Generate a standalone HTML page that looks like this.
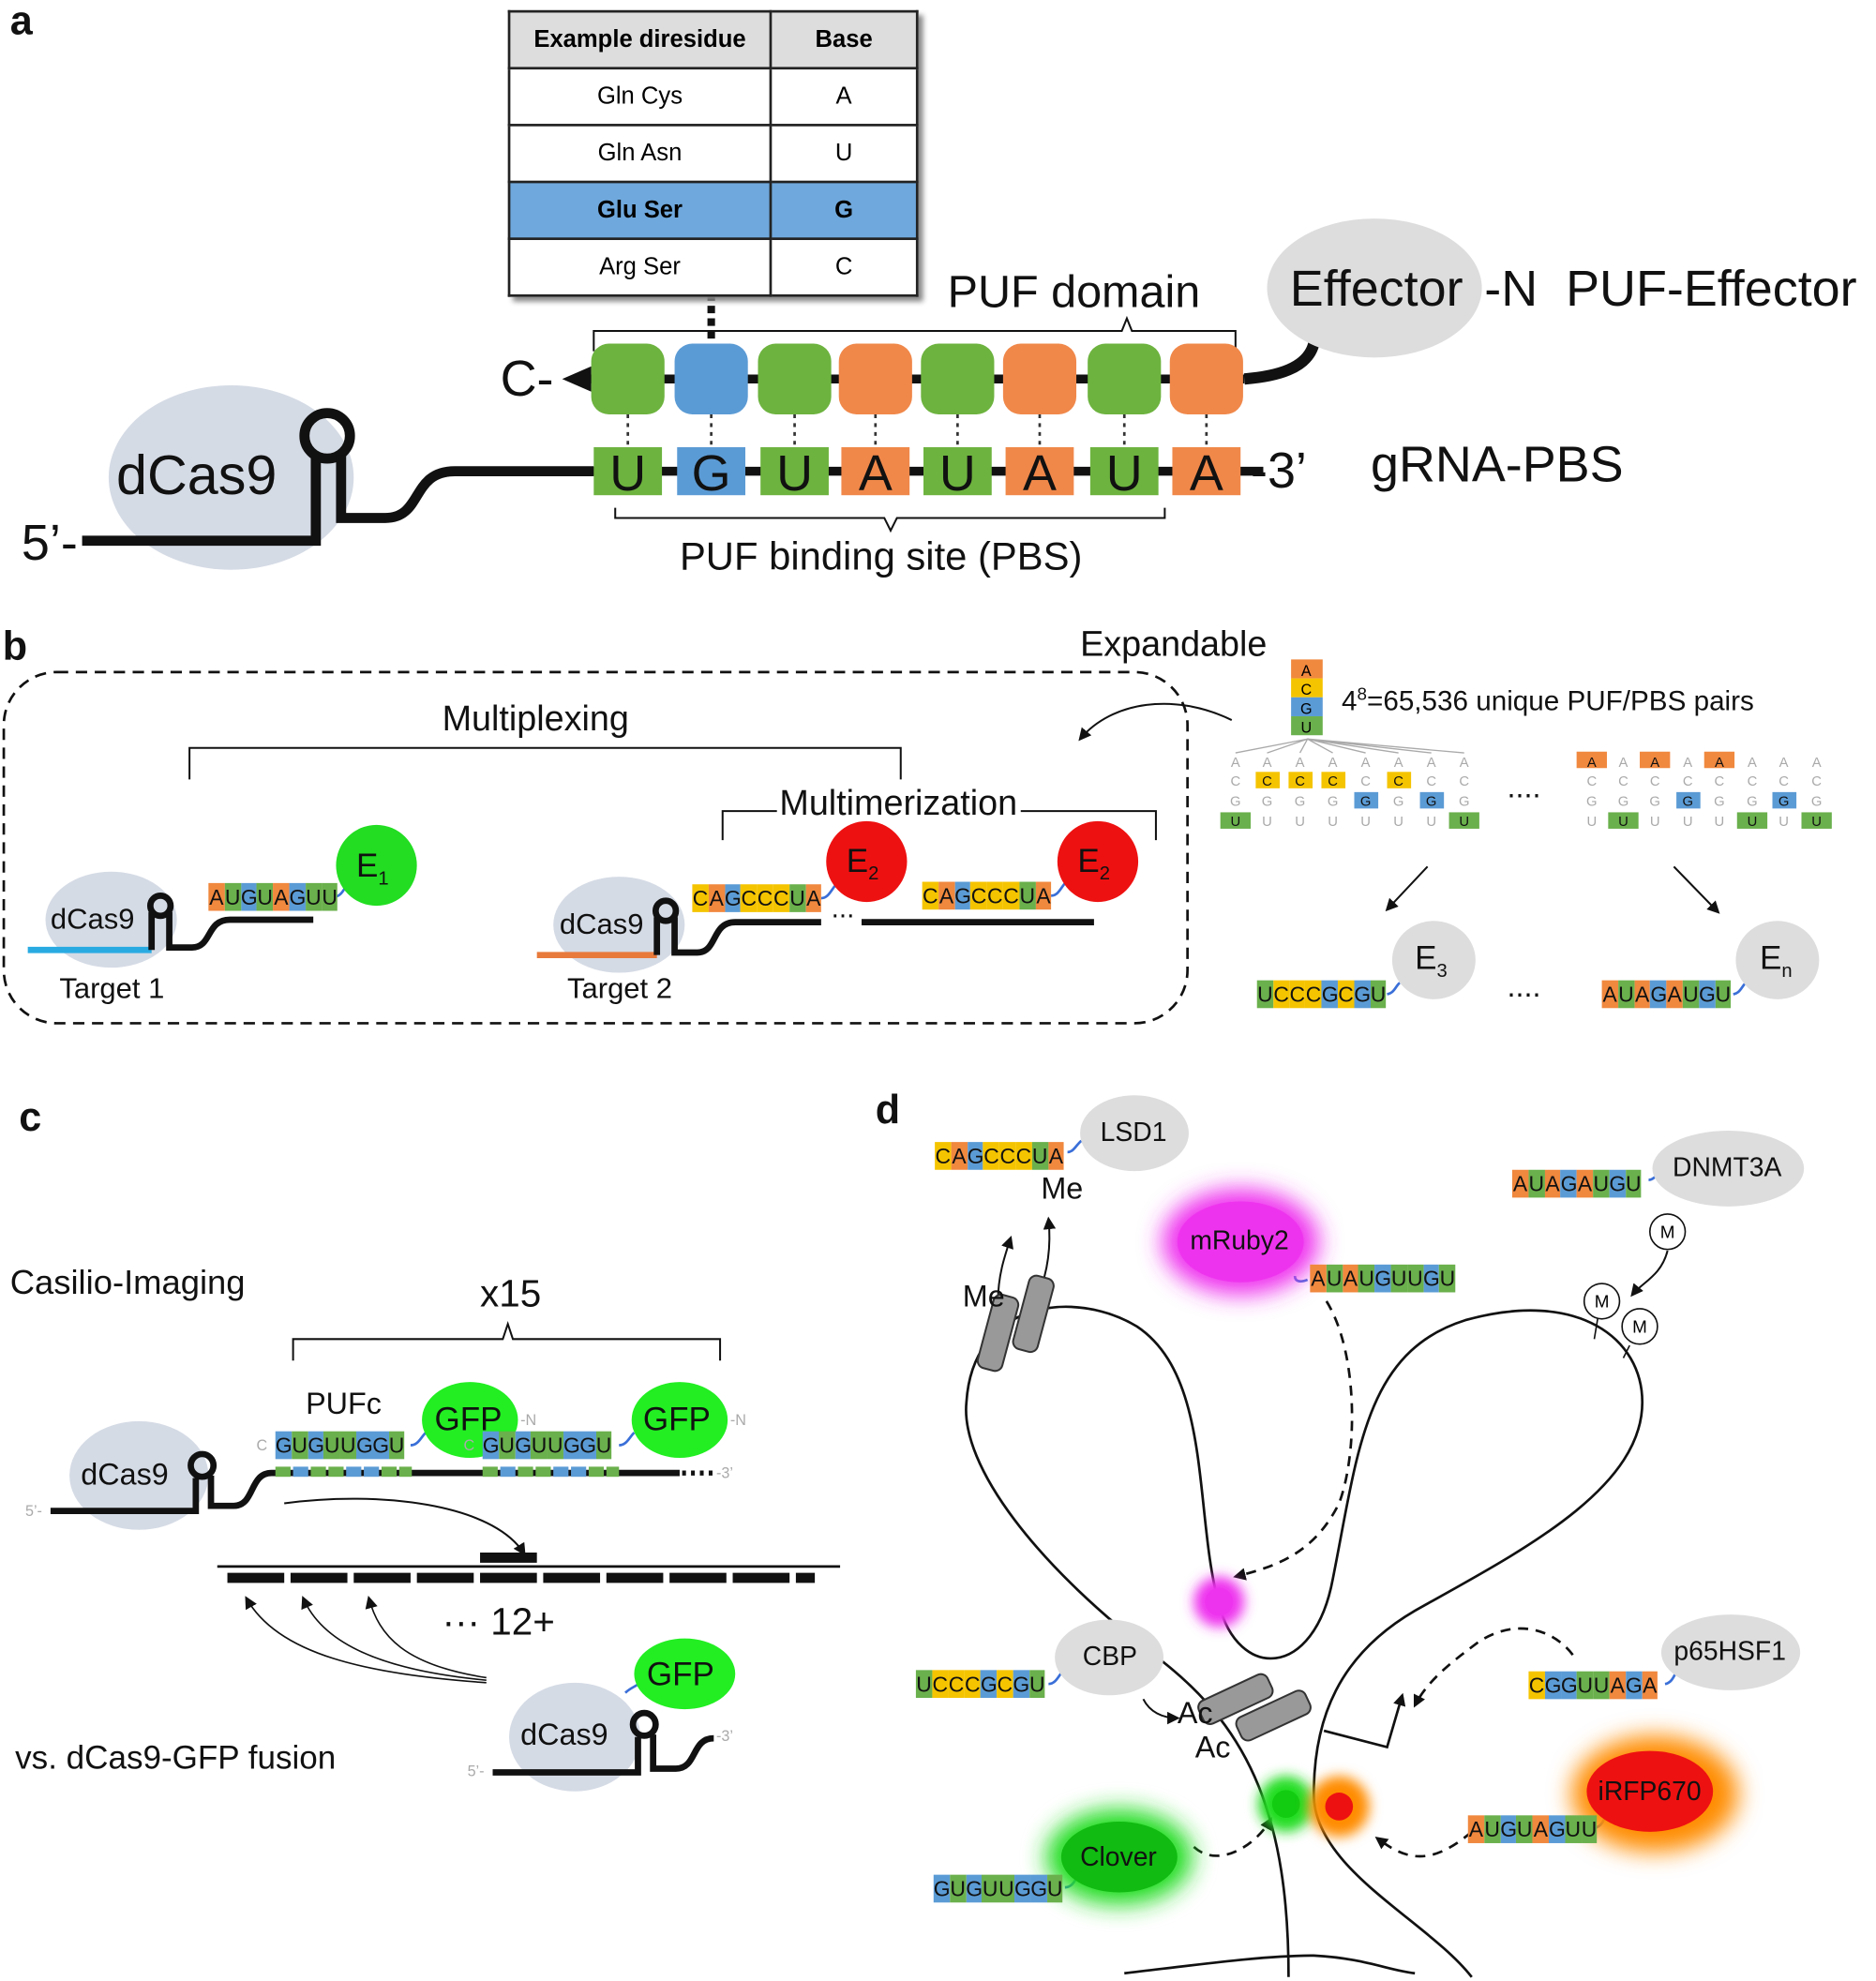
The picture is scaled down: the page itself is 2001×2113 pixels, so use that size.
<!DOCTYPE html>
<html><head><meta charset="utf-8">
<style>
html,body{margin:0;padding:0;background:#fff;}
#w{width:2001px;height:2113px;overflow:hidden;position:relative;}
#s{position:absolute;left:0;top:0;width:1485px;height:1568px;transform:scale(1.34747);transform-origin:0 0;font-family:"Liberation Sans",Arial,sans-serif;}
.t{position:absolute;white-space:nowrap;color:#111;line-height:1;}
.seq{position:absolute;display:flex;height:22px;}
.seq b{display:block;width:12.8px;height:22px;font-weight:normal;font-size:17px;line-height:23px;text-align:center;color:#111;}
.A{background:#f0883e}.C{background:#f5c400}.G{background:#5b9bd5}.U{background:#6ab04c}
table{position:absolute;left:402px;top:8px;border-collapse:collapse;box-shadow:4px 4px 4px #888;background:#fff;}
td{border:2px solid #222;height:41px;font-size:19px;text-align:center;}
</style></head><body><div id="w"><div id="s">
<svg width="1485" height="1568" style="position:absolute;left:0;top:0">
<defs>
<filter id="bl" x="-50%" y="-50%" width="200%" height="200%"><feGaussianBlur stdDeviation="9"/></filter>
<filter id="bl2" x="-100%" y="-100%" width="300%" height="300%"><feGaussianBlur stdDeviation="5"/></filter>
<marker id="ar" markerWidth="10" markerHeight="10" refX="8" refY="5" orient="auto" markerUnits="userSpaceOnUse"><path d="M0,0 L10,5 L0,10 z" fill="#111"/></marker>
</defs>
<ellipse cx="183" cy="378" rx="97" ry="73" fill="#d5dbe5"/>
<ellipse cx="88" cy="728" rx="52" ry="38" fill="#d5dbe5"/>
<ellipse cx="490" cy="732" rx="52" ry="38" fill="#d5dbe5"/>
<ellipse cx="110" cy="1168" rx="55" ry="43" fill="#d5dbe5"/>
<ellipse cx="455" cy="1375" rx="52" ry="43" fill="#d5dbe5"/>
<g fill="none" stroke="#111">
<line x1="563" y1="232" x2="563" y2="272" stroke-width="6" stroke-dasharray="6,4"/>
<path d="M470,278 V262 H888 l4,-10 l4,10 H978 V278" stroke-width="1.5"/>
<path d="M1040,272 C1035,292 1010,298 985,300" stroke-width="9"/>
<line x1="462" y1="300" x2="985" y2="300" stroke-width="7"/>
<path d="M487,402 V410 H700 l5,10 l5,-10 H922 V402" stroke-width="1.5"/>
<line x1="467" y1="373" x2="1000" y2="373" stroke-width="7"/>
<path d="M65,428 H250 V362" stroke-width="8"/>
<circle cx="259" cy="345" r="18" stroke-width="8"/>
<path d="M270,360 V410 H305 C335,410 325,373 360,373 H470" stroke-width="8"/>
<rect x="3" y="532" width="937" height="278" rx="42" stroke-width="2" stroke-dasharray="9,6"/>
<path d="M975,570 C930,548 880,555 855,585" stroke-width="1.5" marker-end="url(#ar)"/>
<path d="M150,617 V592 H713 V617" stroke-width="1.5"/>
<path d="M572,665 V642 H615 M808,642 H915 V665" stroke-width="1.5"/>
<line x1="22" y1="752" x2="120" y2="752" stroke="#29abe2" stroke-width="5"/>
<path d="M120,752 V722" stroke-width="5"/><circle cx="127" cy="717" r="8" stroke-width="5"/>
<path d="M134,722 V750 H152 C168,750 163,728 182,728 H248" stroke-width="5"/>
<line x1="425" y1="756" x2="520" y2="756" stroke="#e87a3c" stroke-width="5"/>
<path d="M520,756 V726" stroke-width="5"/><circle cx="527" cy="721" r="8" stroke-width="5"/>
<path d="M534,726 V754 H552 C568,754 563,730 582,730 H650" stroke-width="5"/>
<line x1="682" y1="730" x2="866" y2="730" stroke-width="5"/>
<g stroke="#aaa" stroke-width="1">
<path d="M1035,585 L978,596 M1035,585 L1003,596 M1035,585 L1029,596 M1035,585 L1055,596 M1035,585 L1081,596 M1035,585 L1107,596 M1035,585 L1133,596 M1035,585 L1159,596"/>
</g>
<line x1="1130" y1="686" x2="1098" y2="720" stroke-width="1.5" marker-end="url(#ar)"/>
<line x1="1325" y1="686" x2="1360" y2="722" stroke-width="1.5" marker-end="url(#ar)"/>
<path d="M1098,787 C1104,786 1105,780 1108,778" stroke="#3a6fd8" stroke-width="2"/>
<path d="M1372,787 C1378,786 1379,780 1382,778" stroke="#3a6fd8" stroke-width="2"/>
<path d="M232,1077 V1060 H398 l4,-12 l4,12 H570 V1077" stroke-width="1.5"/>
<path d="M40,1196 H155 V1170" stroke-width="5"/><circle cx="160" cy="1160" r="9" stroke-width="5"/>
<path d="M167,1168 V1192 H185 C202,1192 197,1166 215,1166 H538" stroke-width="5"/>
<line x1="540" y1="1166" x2="566" y2="1166" stroke-width="4" stroke-dasharray="3,4"/>
<path d="M225,1190 C300,1180 390,1190 415,1230" stroke-width="1.5" marker-end="url(#ar)"/>
<line x1="172" y1="1240" x2="665" y2="1240" stroke-width="2"/>
<line x1="180" y1="1249" x2="645" y2="1249" stroke-width="8" stroke-dasharray="45,5"/>
<line x1="380" y1="1233" x2="425" y2="1233" stroke-width="8"/>
<path d="M385,1332 C290,1325 220,1310 195,1265" stroke-width="1.2" marker-end="url(#ar)"/>
<path d="M385,1330 C300,1322 255,1300 240,1265" stroke-width="1.2" marker-end="url(#ar)"/>
<path d="M385,1328 C320,1318 300,1295 292,1265" stroke-width="1.2" marker-end="url(#ar)"/>
<path d="M390,1403 H505 V1375" stroke-width="5"/><circle cx="510" cy="1365" r="9" stroke-width="5"/>
<path d="M517,1373 V1400 H535 C552,1400 547,1376 565,1376" stroke-width="5"/>
<path d="M495,1340 C500,1335 505,1335 508,1330" stroke="#3a6fd8" stroke-width="2"/>
<path d="M1020,1565 C1020,1440 990,1370 920,1315 C820,1240 760,1160 765,1110 C770,1030 850,1020 900,1050 C960,1090 945,1200 965,1270 C980,1330 1040,1330 1055,1250 C1075,1150 1080,1070 1160,1045 C1250,1020 1300,1060 1300,1110 C1300,1180 1200,1230 1120,1275 C1060,1310 1040,1360 1040,1420 C1040,1480 1130,1520 1165,1565" stroke-width="2"/>
<path d="M890,1562 C950,1555 1000,1548 1040,1548 C1080,1550 1100,1560 1120,1562" stroke-width="2"/>
<path d="M1048,1370 L1098,1383 L1110,1342" stroke-width="2" marker-end="url(#ar)"/>
<path d="M1050,1030 C1075,1070 1075,1150 1060,1190 C1040,1230 1010,1240 978,1248" stroke-width="2" stroke-dasharray="8,6" marker-end="url(#ar)"/>
<path d="M1245,1310 C1230,1290 1200,1280 1170,1300 C1150,1315 1130,1330 1120,1350" stroke-width="2" stroke-dasharray="8,6" marker-end="url(#ar)"/>
<path d="M1165,1450 C1130,1480 1110,1470 1090,1455" stroke-width="2" stroke-dasharray="8,6" marker-end="url(#ar)"/>
<path d="M945,1462 C965,1480 995,1460 1006,1440" stroke-width="2" stroke-dasharray="8,6" marker-end="url(#ar)"/>
<path d="M905,1345 C910,1355 920,1360 932,1360" stroke-width="1.5" marker-end="url(#ar)"/>
<path d="M790,1030 C790,1010 795,995 800,980" stroke-width="1.5" marker-end="url(#ar)"/>
<path d="M822,1025 C830,1005 832,985 830,965" stroke-width="1.5" marker-end="url(#ar)"/>
<path d="M1320,990 C1315,1010 1300,1015 1292,1025" stroke-width="1.5" marker-end="url(#ar)"/>
<path d="M1265,1042 L1262,1060 M1290,1065 L1285,1075" stroke-width="1.2"/>
<path d="M845,912 C850,912 852,906 856,903" stroke="#3a6fd8" stroke-width="2"/>
<path d="M1305,934 C1310,934 1312,928 1316,925" stroke="#3a6fd8" stroke-width="2"/>
<path d="M1025,1010 C1025,1015 1030,1015 1035,1013" stroke="#3a6fd8" stroke-width="2"/>
<path d="M830,1333 C836,1333 838,1326 842,1322" stroke="#3a6fd8" stroke-width="2"/>
<path d="M1318,1333 C1324,1332 1325,1326 1328,1322" stroke="#3a6fd8" stroke-width="2"/>
<path d="M1262,1447 C1268,1446 1270,1440 1272,1435" stroke="#3a6fd8" stroke-width="2"/>
<path d="M843,1494 C849,1494 851,1488 854,1484" stroke="#3a6fd8" stroke-width="2"/>
<path d="M264,710 C270,710 272,704 275,700" stroke="#3a6fd8" stroke-width="2"/>
<path d="M650,711 C656,711 658,704 662,700" stroke="#3a6fd8" stroke-width="2"/>
<path d="M832,709 C838,709 840,702 844,698" stroke="#3a6fd8" stroke-width="2"/>
<path d="M325,1144 C331,1144 333,1138 337,1134" stroke="#3a6fd8" stroke-width="2"/>
<path d="M490,1144 C496,1144 498,1138 502,1134" stroke="#3a6fd8" stroke-width="2"/>
</g>
<path d="M445,300 L468,290 L468,310 z" fill="#111"/>
<g stroke="#333" stroke-width="2" stroke-dasharray="3,4"><line x1="497" y1="328" x2="497" y2="355"/><line x1="563" y1="328" x2="563" y2="355"/><line x1="629" y1="328" x2="629" y2="355"/><line x1="693" y1="328" x2="693" y2="355"/><line x1="758" y1="328" x2="758" y2="355"/><line x1="823" y1="328" x2="823" y2="355"/><line x1="890" y1="328" x2="890" y2="355"/><line x1="955" y1="328" x2="955" y2="355"/></g>
<g>
<rect x="468" y="272" width="58" height="56" rx="14" fill="#6db33f"/>
<rect x="534" y="272" width="58" height="56" rx="14" fill="#5b9bd5"/>
<rect x="600" y="272" width="58" height="56" rx="14" fill="#6db33f"/>
<rect x="664" y="272" width="58" height="56" rx="14" fill="#f0884a"/>
<rect x="729" y="272" width="58" height="56" rx="14" fill="#6db33f"/>
<rect x="794" y="272" width="58" height="56" rx="14" fill="#f0884a"/>
<rect x="861" y="272" width="58" height="56" rx="14" fill="#6db33f"/>
<rect x="926" y="272" width="58" height="56" rx="14" fill="#f0884a"/>
</g>
<g font-size="40" text-anchor="middle" fill="#111" font-family="Liberation Sans">
<rect x="470" y="354" width="54" height="38" fill="#6db33f"/><text x="497" y="388">U</text>
<rect x="536" y="354" width="54" height="38" fill="#5b9bd5"/><text x="563" y="388">G</text>
<rect x="602" y="354" width="54" height="38" fill="#6db33f"/><text x="629" y="388">U</text>
<rect x="666" y="354" width="54" height="38" fill="#f0884a"/><text x="693" y="388">A</text>
<rect x="731" y="354" width="54" height="38" fill="#6db33f"/><text x="758" y="388">U</text>
<rect x="796" y="354" width="54" height="38" fill="#f0884a"/><text x="823" y="388">A</text>
<rect x="863" y="354" width="54" height="38" fill="#6db33f"/><text x="890" y="388">U</text>
<rect x="928" y="354" width="54" height="38" fill="#f0884a"/><text x="955" y="388">A</text>
</g>
<ellipse cx="1088" cy="228" rx="85" ry="55" fill="#ddd"/>
<circle cx="298" cy="685" r="32" fill="#22dd22"/>
<circle cx="686" cy="682" r="32" fill="#ee1111"/>
<circle cx="869" cy="682" r="32" fill="#ee1111"/>
<ellipse cx="1135" cy="760" rx="33" ry="31" fill="#ddd"/>
<ellipse cx="1407" cy="760" rx="33" ry="31" fill="#ddd"/>
<ellipse cx="372" cy="1124" rx="38" ry="30" fill="#22ee22"/>
<ellipse cx="538" cy="1124" rx="38" ry="30" fill="#22ee22"/>
<ellipse cx="542" cy="1325" rx="40" ry="28" fill="#22ee22"/>
<ellipse cx="898" cy="897" rx="43" ry="30" fill="#ddd"/>
<ellipse cx="1368" cy="925" rx="60" ry="30" fill="#ddd"/>
<ellipse cx="982" cy="983" rx="62" ry="42" fill="#ee33ee" filter="url(#bl)"/>
<ellipse cx="982" cy="983" rx="50" ry="32" fill="#ee33ee"/>
<ellipse cx="878" cy="1312" rx="43" ry="30" fill="#ddd"/>
<ellipse cx="1370" cy="1308" rx="55" ry="30" fill="#ddd"/>
<ellipse cx="1310" cy="1420" rx="66" ry="46" fill="#ff8c00" filter="url(#bl)"/>
<ellipse cx="1306" cy="1418" rx="50" ry="32" fill="#ee1111"/>
<ellipse cx="886" cy="1470" rx="58" ry="38" fill="#22dd22" filter="url(#bl)"/>
<ellipse cx="886" cy="1470" rx="46" ry="28" fill="#11bb11"/>
<circle cx="965" cy="1268" r="20" fill="#ee33ee" filter="url(#bl2)"/><circle cx="965" cy="1268" r="11" fill="#ee33ee"/>
<circle cx="1018" cy="1428" r="22" fill="#22dd22" filter="url(#bl2)"/><circle cx="1018" cy="1428" r="11" fill="#11cc11"/>
<circle cx="1060" cy="1430" r="24" fill="#ff8c00" filter="url(#bl2)"/><circle cx="1060" cy="1430" r="11" fill="#ee1111"/>
<g fill="#999" stroke="#333" stroke-width="1.5">
<g transform="rotate(15 790 1055)"><rect x="780" y="1025" width="20" height="60" rx="6"/></g>
<g transform="rotate(15 818 1040)"><rect x="808" y="1010" width="20" height="60" rx="6"/></g>
<g transform="rotate(65 978 1345)"><rect x="968" y="1315" width="20" height="60" rx="6"/></g>
<g transform="rotate(65 1008 1358)"><rect x="998" y="1328" width="20" height="60" rx="6"/></g>
</g>
<g fill="#fff" stroke="#111" stroke-width="1.2"><circle cx="1320" cy="975" r="14"/><circle cx="1268" cy="1030" r="14"/><circle cx="1298" cy="1050" r="14"/></g>
<g font-size="14" text-anchor="middle" font-family="Liberation Sans"><text x="1320" y="980">M</text><text x="1268" y="1035">M</text><text x="1298" y="1055">M</text></g>
<rect x="1022" y="522" width="25" height="15" fill="#f0883e"/><rect x="1022" y="537" width="25" height="15" fill="#f5c400"/><rect x="1022" y="552" width="25" height="15" fill="#5b9bd5"/><rect x="1022" y="567" width="25" height="15" fill="#6ab04c"/>
<g font-size="12" text-anchor="middle" font-family="Liberation Sans"><text x="1034" y="535">A</text><text x="1034" y="550">C</text><text x="1034" y="565">G</text><text x="1034" y="580">U</text></g>
<g fill="#f5c400"><rect x="994" y="611" width="19" height="13"/><rect x="1020" y="611" width="19" height="13"/><rect x="1046" y="611" width="19" height="13"/><rect x="1098" y="611" width="19" height="13"/></g>
<g fill="#5b9bd5"><rect x="1072" y="627" width="19" height="13"/><rect x="1124" y="627" width="19" height="13"/><rect x="1327" y="627" width="19" height="13"/><rect x="1403" y="627" width="19" height="13"/></g>
<g fill="#6ab04c"><rect x="966" y="643" width="24" height="13"/><rect x="1147" y="643" width="24" height="13"/><rect x="1273" y="643" width="24" height="13"/><rect x="1375" y="643" width="24" height="13"/><rect x="1426" y="643" width="24" height="13"/></g>
<g fill="#f0883e"><rect x="1248" y="595" width="24" height="13"/><rect x="1298" y="595" width="24" height="13"/><rect x="1349" y="595" width="24" height="13"/></g>
<g font-size="11" text-anchor="middle" font-family="Liberation Sans" fill="#aaa">
<text x="978" y="607">A</text><text x="1003" y="607">A</text><text x="1029" y="607">A</text><text x="1055" y="607">A</text><text x="1081" y="607">A</text><text x="1107" y="607">A</text><text x="1133" y="607">A</text><text x="1159" y="607">A</text>
<text x="978" y="622">C</text><text x="1081" y="622">C</text><text x="1133" y="622">C</text><text x="1159" y="622">C</text>
<text x="978" y="638">G</text><text x="1003" y="638">G</text><text x="1029" y="638">G</text><text x="1055" y="638">G</text><text x="1107" y="638">G</text><text x="1159" y="638">G</text>
<text x="1003" y="654">U</text><text x="1029" y="654">U</text><text x="1055" y="654">U</text><text x="1081" y="654">U</text><text x="1107" y="654">U</text><text x="1133" y="654">U</text>
<text x="1285" y="607">A</text><text x="1336" y="607">A</text><text x="1387" y="607">A</text><text x="1412" y="607">A</text><text x="1438" y="607">A</text>
<text x="1260" y="622">C</text><text x="1285" y="622">C</text><text x="1310" y="622">C</text><text x="1336" y="622">C</text><text x="1361" y="622">C</text><text x="1387" y="622">C</text><text x="1412" y="622">C</text><text x="1438" y="622">C</text>
<text x="1260" y="638">G</text><text x="1285" y="638">G</text><text x="1310" y="638">G</text><text x="1361" y="638">G</text><text x="1387" y="638">G</text><text x="1438" y="638">G</text>
<text x="1260" y="654">U</text><text x="1310" y="654">U</text><text x="1336" y="654">U</text><text x="1361" y="654">U</text><text x="1412" y="654">U</text>
</g>
<g font-size="11" text-anchor="middle" font-family="Liberation Sans" fill="#111">
<text x="1003" y="622">C</text><text x="1029" y="622">C</text><text x="1055" y="622">C</text><text x="1107" y="622">C</text>
<text x="1081" y="638">G</text><text x="1133" y="638">G</text><text x="1336" y="638">G</text><text x="1412" y="638">G</text>
<text x="978" y="654">U</text><text x="1159" y="654">U</text><text x="1285" y="654">U</text><text x="1387" y="654">U</text><text x="1438" y="654">U</text>
<text x="1260" y="607">A</text><text x="1310" y="607">A</text><text x="1361" y="607">A</text>
</g>
<g>
<rect x="218" y="1161" width="12" height="8" fill="#6ab04c"/><rect x="232" y="1161" width="12" height="8" fill="#5b9bd5"/><rect x="246" y="1161" width="12" height="8" fill="#6ab04c"/><rect x="260" y="1161" width="12" height="8" fill="#6ab04c"/><rect x="274" y="1161" width="12" height="8" fill="#5b9bd5"/><rect x="288" y="1161" width="12" height="8" fill="#5b9bd5"/><rect x="302" y="1161" width="12" height="8" fill="#6ab04c"/><rect x="316" y="1161" width="10" height="8" fill="#6ab04c"/>
<rect x="382" y="1161" width="12" height="8" fill="#6ab04c"/><rect x="396" y="1161" width="12" height="8" fill="#5b9bd5"/><rect x="410" y="1161" width="12" height="8" fill="#6ab04c"/><rect x="424" y="1161" width="12" height="8" fill="#6ab04c"/><rect x="438" y="1161" width="12" height="8" fill="#5b9bd5"/><rect x="452" y="1161" width="12" height="8" fill="#5b9bd5"/><rect x="466" y="1161" width="12" height="8" fill="#6ab04c"/><rect x="480" y="1161" width="10" height="8" fill="#6ab04c"/>
</g>
</svg>

<table><tr style="background:#ddd"><td style="width:203px;font-weight:bold">Example diresidue</td><td style="width:112px;font-weight:bold">Base</td></tr>
<tr><td>Gln Cys</td><td>A</td></tr><tr><td>Gln Asn</td><td>U</td></tr>
<tr style="background:#6fa8dc;font-weight:bold"><td>Glu Ser</td><td>G</td></tr><tr><td>Arg Ser</td><td>C</td></tr></table>

<div class="t" style="left:8px;top:0px;font-size:32px;font-weight:bold">a</div>
<div class="t" style="left:750px;top:213px;font-size:36px">PUF domain</div>
<div class="t" style="left:1021px;top:209px;font-size:40px">Effector</div>
<div class="t" style="left:1175px;top:209px;font-size:40px">-N&nbsp; PUF-Effector</div>
<div class="t" style="left:396px;top:280px;font-size:40px">C-</div>
<div class="t" style="left:990px;top:353px;font-size:40px">-3’</div>
<div class="t" style="left:1085px;top:348px;font-size:40px">gRNA-PBS</div>
<div class="t" style="left:92px;top:355px;font-size:44px">dCas9</div>
<div class="t" style="left:17px;top:410px;font-size:40px">5’-</div>
<div class="t" style="left:538px;top:425px;font-size:31px">PUF binding site (PBS)</div>

<div class="t" style="left:2px;top:495px;font-size:32px;font-weight:bold">b</div>
<div class="t" style="left:855px;top:496px;font-size:28px">Expandable</div>
<div class="t" style="left:350px;top:555px;font-size:28px">Multiplexing</div>
<div class="t" style="left:617px;top:622px;font-size:28px">Multimerization</div>
<div class="t" style="left:1062px;top:542px;font-size:22px">4<sup style="font-size:14px">8</sup>=65,536 unique PUF/PBS pairs</div>
<div class="t" style="left:1193px;top:612px;font-size:24px">....</div>
<div class="t" style="left:1193px;top:770px;font-size:24px">....</div>
<div class="t" style="left:40px;top:716px;font-size:23px">dCas9</div>
<div class="t" style="left:443px;top:720px;font-size:23px">dCas9</div>
<div class="t" style="left:47px;top:771px;font-size:23px">Target 1</div>
<div class="t" style="left:449px;top:771px;font-size:23px">Target 2</div>
<div class="t" style="left:282px;top:672px;font-size:26px">E<sub style="font-size:15px">1</sub></div>
<div class="t" style="left:670px;top:668px;font-size:26px">E<sub style="font-size:15px">2</sub></div>
<div class="t" style="left:853px;top:668px;font-size:26px">E<sub style="font-size:15px">2</sub></div>
<div class="t" style="left:1120px;top:745px;font-size:26px">E<sub style="font-size:15px">3</sub></div>
<div class="t" style="left:1393px;top:745px;font-size:26px">E<sub style="font-size:15px">n</sub></div>
<div class="t" style="left:658px;top:708px;font-size:22px">...</div>
<div class="seq" style="left:165px;top:699px"><b class="A">A</b><b class="U">U</b><b class="G">G</b><b class="U">U</b><b class="A">A</b><b class="G">G</b><b class="U">U</b><b class="U">U</b></div>
<div class="seq" style="left:548px;top:700px"><b class="C">C</b><b class="A">A</b><b class="G">G</b><b class="C">C</b><b class="C">C</b><b class="C">C</b><b class="U">U</b><b class="A">A</b></div>
<div class="seq" style="left:730px;top:698px"><b class="C">C</b><b class="A">A</b><b class="G">G</b><b class="C">C</b><b class="C">C</b><b class="C">C</b><b class="U">U</b><b class="A">A</b></div>
<div class="seq" style="left:995px;top:776px"><b class="U">U</b><b class="C">C</b><b class="C">C</b><b class="C">C</b><b class="G">G</b><b class="C">C</b><b class="G">G</b><b class="U">U</b></div>
<div class="seq" style="left:1268px;top:776px"><b class="A">A</b><b class="U">U</b><b class="A">A</b><b class="G">G</b><b class="A">A</b><b class="U">U</b><b class="G">G</b><b class="U">U</b></div>

<div class="t" style="left:15px;top:868px;font-size:32px;font-weight:bold">c</div>
<div class="t" style="left:8px;top:1002px;font-size:27px">Casilio-Imaging</div>
<div class="t" style="left:380px;top:1010px;font-size:30px">x15</div>
<div class="t" style="left:242px;top:1100px;font-size:24px">PUFc</div>
<div class="t" style="left:344px;top:1110px;font-size:26px">GFP</div>
<div class="t" style="left:509px;top:1110px;font-size:26px">GFP</div>
<div class="t" style="left:512px;top:1312px;font-size:26px">GFP</div>
<div class="t" style="left:64px;top:1156px;font-size:24px">dCas9</div>
<div class="t" style="left:412px;top:1362px;font-size:24px">dCas9</div>
<div class="t" style="left:350px;top:1270px;font-size:30px">··· 12+</div>
<div class="t" style="left:12px;top:1378px;font-size:26px">vs. dCas9-GFP fusion</div>
<div class="t" style="left:20px;top:1190px;font-size:12px;color:#aaa">5’-</div>
<div class="t" style="left:370px;top:1396px;font-size:12px;color:#aaa">5’-</div>
<div class="t" style="left:567px;top:1160px;font-size:12px;color:#aaa">-3’</div>
<div class="t" style="left:567px;top:1368px;font-size:12px;color:#aaa">-3’</div>
<div class="t" style="left:203px;top:1138px;font-size:12px;color:#aaa">C</div>
<div class="t" style="left:367px;top:1138px;font-size:12px;color:#aaa">C</div>
<div class="t" style="left:412px;top:1118px;font-size:12px;color:#aaa">-N</div>
<div class="t" style="left:578px;top:1118px;font-size:12px;color:#aaa">-N</div>
<div class="seq" style="left:218px;top:1133px"><b class="G">G</b><b class="U">U</b><b class="G">G</b><b class="U">U</b><b class="U">U</b><b class="G">G</b><b class="G">G</b><b class="U">U</b></div>
<div class="seq" style="left:382px;top:1133px"><b class="G">G</b><b class="U">U</b><b class="G">G</b><b class="U">U</b><b class="U">U</b><b class="G">G</b><b class="G">G</b><b class="U">U</b></div>

<div class="t" style="left:693px;top:862px;font-size:32px;font-weight:bold">d</div>
<div class="t" style="left:871px;top:886px;font-size:21px">LSD1</div>
<div class="t" style="left:1324px;top:914px;font-size:21px">DNMT3A</div>
<div class="t" style="left:942px;top:972px;font-size:21px">mRuby2</div>
<div class="t" style="left:857px;top:1301px;font-size:21px">CBP</div>
<div class="t" style="left:1325px;top:1297px;font-size:21px">p65HSF1</div>
<div class="t" style="left:1265px;top:1408px;font-size:21px">iRFP670</div>
<div class="t" style="left:855px;top:1460px;font-size:21px">Clover</div>
<div class="t" style="left:824px;top:930px;font-size:24px">Me</div>
<div class="t" style="left:762px;top:1015px;font-size:24px">Me</div>
<div class="t" style="left:932px;top:1345px;font-size:24px">Ac</div>
<div class="t" style="left:946px;top:1372px;font-size:24px">Ac</div>
<div class="seq" style="left:740px;top:904px"><b class="C">C</b><b class="A">A</b><b class="G">G</b><b class="C">C</b><b class="C">C</b><b class="C">C</b><b class="U">U</b><b class="A">A</b></div>
<div class="seq" style="left:1197px;top:926px"><b class="A">A</b><b class="U">U</b><b class="A">A</b><b class="G">G</b><b class="A">A</b><b class="U">U</b><b class="G">G</b><b class="U">U</b></div>
<div class="seq" style="left:1037px;top:1001px"><b class="A">A</b><b class="U">U</b><b class="A">A</b><b class="U">U</b><b class="G">G</b><b class="U">U</b><b class="U">U</b><b class="G">G</b><b class="U">U</b></div>
<div class="seq" style="left:725px;top:1322px"><b class="U">U</b><b class="C">C</b><b class="C">C</b><b class="C">C</b><b class="G">G</b><b class="C">C</b><b class="G">G</b><b class="U">U</b></div>
<div class="seq" style="left:1210px;top:1323px"><b class="C">C</b><b class="G">G</b><b class="G">G</b><b class="U">U</b><b class="U">U</b><b class="A">A</b><b class="G">G</b><b class="A">A</b></div>
<div class="seq" style="left:1162px;top:1437px"><b class="A">A</b><b class="U">U</b><b class="G">G</b><b class="U">U</b><b class="A">A</b><b class="G">G</b><b class="U">U</b><b class="U">U</b></div>
<div class="seq" style="left:739px;top:1484px"><b class="G">G</b><b class="U">U</b><b class="G">G</b><b class="U">U</b><b class="U">U</b><b class="G">G</b><b class="G">G</b><b class="U">U</b></div>
</div></div></body></html>
